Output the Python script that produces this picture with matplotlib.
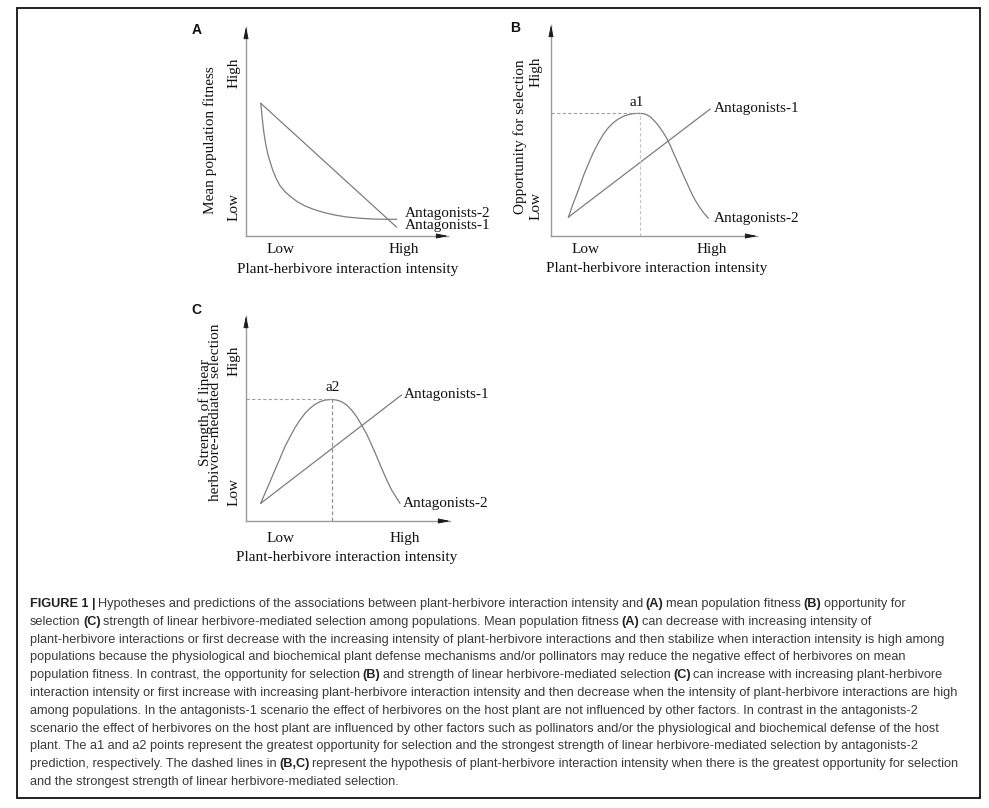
import re
import numpy as np
import matplotlib
matplotlib.use('Agg')
import matplotlib.pyplot as plt
from matplotlib.patches import Rectangle

plt.rcParams['font.family'] = 'Liberation Serif'

W, H = 989, 808

# ---- data (schematic values, 0-10 scale) ----
tick_x = [1.7, 7.8]
tick_y = [1.4, 7.8]
tick_labels = ['Low', 'High']

# Panel A: mean population fitness
a_ant1_x = [0.73, 7.46]
a_ant1_y = [6.35, 0.42]
a_ant2_x = [0.73, 0.78, 0.83, 0.89, 0.97, 1.07, 1.19, 1.32, 1.49, 1.68, 1.93, 2.21, 2.54,
            2.92, 3.33, 3.83, 4.41, 4.98, 5.64, 6.30, 6.96, 7.46]
a_ant2_y = [6.35, 5.87, 5.39, 4.91, 4.43, 3.96, 3.56, 3.16, 2.76, 2.41, 2.12, 1.88, 1.64,
            1.44, 1.28, 1.13, 1.00, 0.91, 0.85, 0.81, 0.80, 0.80]

# Panel B: opportunity for selection
b_ant1_x = [0.84, 7.73]
b_ant1_y = [0.89, 6.02]
b_ant2_x = [0.84, 1.08, 1.33, 1.57, 1.81, 2.05, 2.30, 2.54, 2.78, 3.03, 3.27, 3.51, 3.75,
            4.00, 4.24, 4.48, 4.64, 4.81, 4.97, 5.13, 5.29, 5.45, 5.62, 5.78, 5.94, 6.10,
            6.26, 6.42, 6.59, 6.75, 6.91, 7.07, 7.23, 7.39, 7.64]
b_ant2_y = [0.88, 1.55, 2.18, 2.84, 3.41, 3.95, 4.42, 4.82, 5.13, 5.37, 5.55, 5.67, 5.75,
            5.80, 5.81, 5.80, 5.75, 5.66, 5.50, 5.34, 5.13, 4.90, 4.63, 4.31, 3.95, 3.60,
            3.25, 2.89, 2.53, 2.18, 1.86, 1.58, 1.34, 1.12, 0.84]
b_peak = (4.30, 5.81)

# Panel C: strength of linear herbivore-mediated selection
c_ant1_x = [0.72, 7.63]
c_ant1_y = [0.86, 6.15]
c_ant2_x = [0.72, 0.93, 1.18, 1.42, 1.67, 1.91, 2.16, 2.40, 2.65, 2.89, 3.14, 3.38, 3.63,
            3.87, 4.20, 4.44, 4.69, 4.93, 5.18, 5.42, 5.67, 5.92, 6.16, 6.41, 6.65, 6.90,
            7.14, 7.39, 7.55]
c_ant2_y = [0.86, 1.35, 1.92, 2.49, 3.06, 3.63, 4.11, 4.55, 4.93, 5.25, 5.50, 5.69, 5.82,
            5.90, 5.93, 5.90, 5.82, 5.66, 5.41, 5.09, 4.68, 4.23, 3.71, 3.14, 2.57, 2.00,
            1.51, 1.11, 0.86]
c_peak = (4.20, 5.93)

# caption, **...** marks bold runs
caption_lines = [
    "**FIGURE 1 |** Hypotheses and predictions of the associations between plant-herbivore interaction intensity and **(A)** mean population fitness **(B)** opportunity for",
    "selection **(C)** strength of linear herbivore-mediated selection among populations. Mean population fitness **(A)** can decrease with increasing intensity of",
    "plant-herbivore interactions or first decrease with the increasing intensity of plant-herbivore interactions and then stabilize when interaction intensity is high among",
    "populations because the physiological and biochemical plant defense mechanisms and/or pollinators may reduce the negative effect of herbivores on mean",
    "population fitness. In contrast, the opportunity for selection **(B)** and strength of linear herbivore-mediated selection **(C)** can increase with increasing plant-herbivore",
    "interaction intensity or first increase with increasing plant-herbivore interaction intensity and then decrease when the intensity of plant-herbivore interactions are high",
    "among populations. In the antagonists-1 scenario the effect of herbivores on the host plant are not influenced by other factors. In contrast in the antagonists-2",
    "scenario the effect of herbivores on the host plant are influenced by other factors such as pollinators and/or the physiological and biochemical defense of the host",
    "plant. The a1 and a2 points represent the greatest opportunity for selection and the strongest strength of linear herbivore-mediated selection by antagonists-2",
    "prediction, respectively. The dashed lines in **(B,C)** represent the hypothesis of plant-herbivore interaction intensity when there is the greatest opportunity for selection",
    "and the strongest strength of linear herbivore-mediated selection.",
]

LINE = '#7d7d7d'
AXIS = '#9a9a9a'
TXT = '#111111'
CAP = 'Liberation Sans'


def px_rect(l, b, r, t):
    return [l / W, 1 - b / H, (r - l) / W, (b - t) / H]


def setup_axes(ax, ylabel, xlab_pos, ylab_pos, xpad=5, ypad=4):
    ax.set_xlim(0, 10)
    ax.set_ylim(0, 10)
    ax.patch.set_alpha(0)
    for s in ['top', 'right']:
        ax.spines[s].set_visible(False)
    for s in ['left', 'bottom']:
        ax.spines[s].set_color(AXIS)
        ax.spines[s].set_linewidth(1.0)
    # arrowheads
    head = dict(arrowstyle='-|>,head_length=0.7,head_width=0.15', color='#1a1a1a',
                lw=0.6, shrinkA=0, shrinkB=0, mutation_scale=10)
    ax.annotate('', xy=(1, 0), xycoords='axes fraction', xytext=(0.97, 0), arrowprops=head)
    ax.annotate('', xy=(0, 1), xycoords='axes fraction', xytext=(0, 0.97), arrowprops=head)

    ax.set_xticks(tick_x, tick_labels)
    ax.set_yticks(tick_y, tick_labels)
    ax.tick_params(axis='x', length=0, pad=xpad, labelsize=11, labelcolor=TXT)
    ax.tick_params(axis='y', length=0, pad=ypad, labelsize=11, labelcolor=TXT, labelrotation=90)
    for lab in ax.get_yticklabels():
        lab.set_va('center')

    ax.set_xlabel('Plant-herbivore interaction intensity', fontsize=11, color=TXT)
    ax.xaxis.label.set_va('center')
    ax.xaxis.set_label_coords(*xlab_pos)
    ax.set_ylabel(ylabel, fontsize=11, color=TXT, linespacing=0.78)
    ax.yaxis.label.set_va('center')
    ax.yaxis.set_label_coords(*ylab_pos)


def curve(ax, x, y, **kw):
    ax.plot(x, y, color=LINE, lw=0.9, solid_joinstyle='round', solid_capstyle='round', **kw)


def end_label(ax, text, x, y, dx, dy):
    ax.annotate(text, xy=(x, y), xytext=(dx, dy), textcoords='offset pixels',
                va='center', ha='left', fontsize=11, color=TXT, annotation_clip=False)


fig = plt.figure(figsize=(W / 100, H / 100), dpi=100)

# ---- Panel A ----
axA = fig.add_axes(px_rect(246, 236, 448, 27))
setup_axes(axA, 'Mean population fitness', (0.505, -0.158), (-0.178, 0.459))
curve(axA, a_ant1_x, a_ant1_y)
curve(axA, a_ant2_x, a_ant2_y)
end_label(axA, 'Antagonists-2', a_ant2_x[-1], a_ant2_y[-1], 8, 6)
end_label(axA, 'Antagonists-1', a_ant1_x[-1], a_ant1_y[-1], 8, 2)

# ---- Panel B ----
axB = fig.add_axes(px_rect(551, 236, 757, 25))
setup_axes(axB, 'Opportunity for selection', (0.515, -0.156), (-0.150, 0.469), ypad=6)
curve(axB, b_ant1_x, b_ant1_y)
curve(axB, b_ant2_x, b_ant2_y)
axB.plot([0, b_peak[0]], [b_peak[1], b_peak[1]], color='#a0a0a0', lw=0.8, ls=(0, (3, 2)))
axB.plot([b_peak[0], b_peak[0]], [0, b_peak[1]], color='#c4c4c4', lw=0.8, ls=(0, (3, 2)))
axB.annotate('a1', xy=b_peak, xytext=(-3, 11), textcoords='offset pixels',
             ha='center', va='center', fontsize=11, color=TXT)
end_label(axB, 'Antagonists-1', b_ant1_x[-1], b_ant1_y[-1], 4, 0)
end_label(axB, 'Antagonists-2', b_ant2_x[-1], b_ant2_y[-1], 5, 0)

# ---- Panel C ----
axC = fig.add_axes(px_rect(246, 521, 450, 316))
setup_axes(axC, 'Strength of linear\nherbivore-mediated selection', (0.495, -0.18), (-0.176, 0.53),
           xpad=8)
curve(axC, c_ant1_x, c_ant1_y)
curve(axC, c_ant2_x, c_ant2_y)
axC.plot([0, c_peak[0]], [c_peak[1], c_peak[1]], color='#a0a0a0', lw=0.8, ls=(0, (3, 2)))
axC.plot([c_peak[0], c_peak[0]], [0, c_peak[1]], color='#909090', lw=0.9, ls=(0, (3, 2)))
axC.annotate('a2', xy=c_peak, xytext=(1.5, 12), textcoords='offset pixels',
             ha='center', va='center', fontsize=11, color=TXT)
end_label(axC, 'Antagonists-1', c_ant1_x[-1], c_ant1_y[-1], 2, 0)
end_label(axC, 'Antagonists-2', c_ant2_x[-1], c_ant2_y[-1], 3, 0)

# panel letters
for letter, (x, y) in zip('ABC', [(197, 30), (515, 28), (196, 310)]):
    fig.text(x / W, 1 - y / H, letter, family=CAP, weight='bold',
             fontsize=10, ha='center', va='center', color='#111111')

# outer frame
fig.add_artist(Rectangle((17 / W, 1 - 798 / H), (980 - 17) / W, (798 - 8) / H,
                         transform=fig.transFigure, fill=False, ec='#111111', lw=1.3))

# ---- caption ----
renderer = fig.canvas.get_renderer()


def text_width(s, fs, weight):
    t = fig.text(0, 0, s, family=CAP, fontsize=fs, weight=weight)
    w = t.get_window_extent(renderer).width
    t.remove()
    return w


def advance(s, fs, weight):
    return text_width('|' + s + '|', fs, weight) - text_width('||', fs, weight)


fs = 9 * 932 / text_width(caption_lines[5], 9, 'normal')
space_w = advance(' ', fs, 'normal') - 1.0  # tighten the gap at bold/regular joins

for i, line in enumerate(caption_lines):
    y = 1 - (607 + 17.8 * i) / H
    x_px = 30.0
    for seg in re.split(r'(\*\*.*?\*\*)', line):
        if not seg:
            continue
        bold = seg.startswith('**')
        s = seg.strip('*')
        weight = 'bold' if bold else 'normal'
        if s.startswith(' '):
            x_px += space_w
        core = s.strip(' ')
        fig.text(x_px / W, y, core, family=CAP, fontsize=fs, weight=weight,
                 color='#222222' if bold else '#3a3a3a', ha='left', va='baseline')
        x_px += advance(core, fs, weight)
        if s.endswith(' '):
            x_px += space_w

fig.savefig('out.png', dpi=100)
